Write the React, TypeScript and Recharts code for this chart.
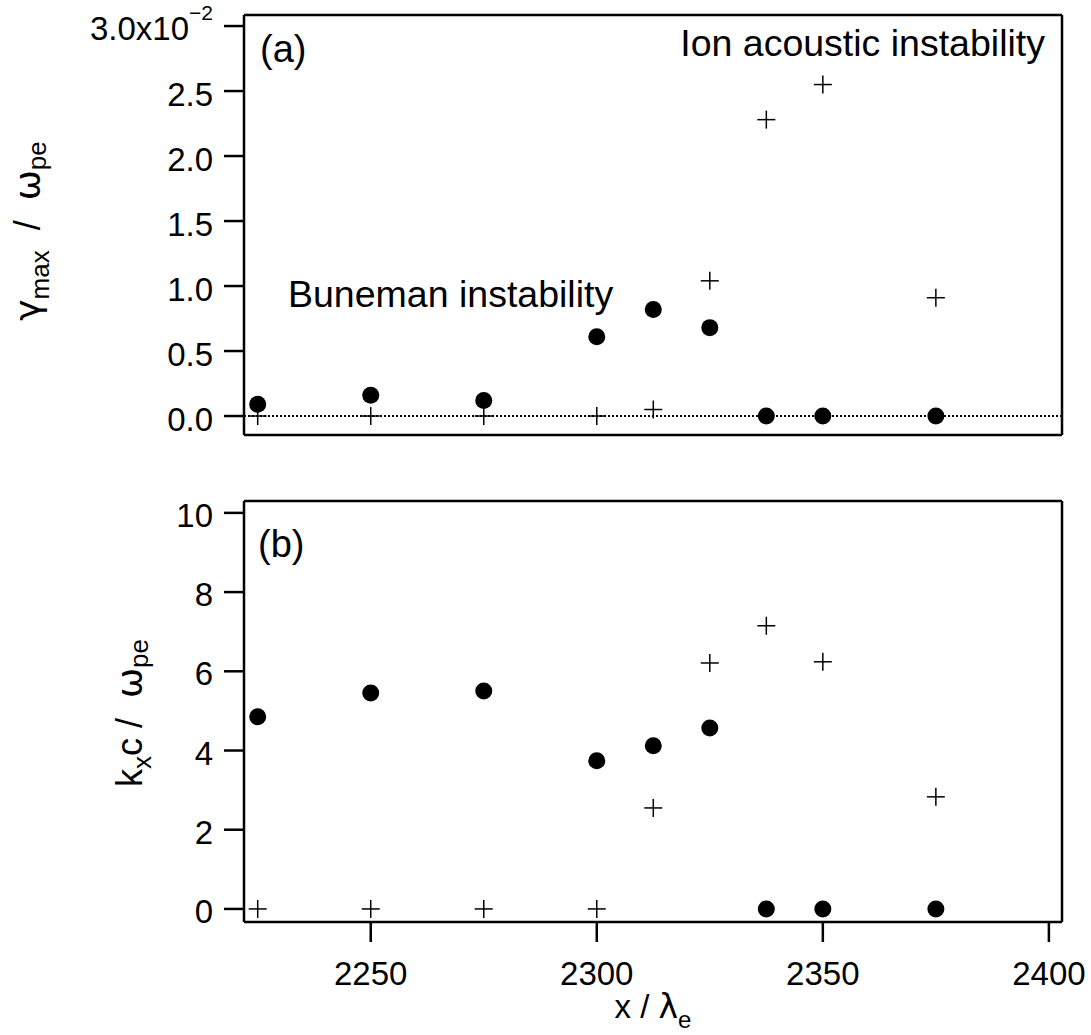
import React from 'react';
import { ScatterChart, Scatter, XAxis, YAxis, ReferenceLine, Customized } from 'recharts';

// x position of each run (x / lambda_e)
const xPos = [2225, 2250, 2275, 2300, 2312.5, 2325, 2337.5, 2350, 2375];

// (a) max growth rate, gamma_max / omega_pe in units of 1e-2
const gammaBuneman = [0.09, 0.16, 0.12, 0.61, 0.82, 0.68, 0, 0, 0];
const gammaIonAcoustic = [0, 0, 0, 0, 0.05, 1.04, 2.28, 2.55, 0.91];

// (b) wavenumber of the max mode, kx c / omega_pe
const kBuneman = [4.85, 5.45, 5.5, 3.74, 4.12, 4.57, 0, 0, 0];
const kIonAcoustic = [0, 0, 0, 0, 2.55, 6.21, 7.15, 6.24, 2.83];

const xTicks = [2250, 2300, 2350, 2400];
const gammaTicks = [0, 0.5, 1, 1.5, 2, 2.5, 3];
const kTicks = [0, 2, 4, 6, 8, 10];

const FONT = '"Liberation Sans", Arial, Helvetica, sans-serif';
const GREEK = '"DejaVu Sans", sans-serif';
const AXIS = { stroke: '#000', strokeWidth: 2.5 };
const NB = '\u00A0';

const toRows = (ys: number[]) => xPos.map((x, i) => ({ x, y: ys[i] }));

const Dot = (props: any) => <circle cx={props.cx} cy={props.cy} r={8.5} fill="#000" />;

const Plus = (props: any) => {
  const { cx, cy } = props;
  return (
    <g stroke="#000" strokeWidth={1.5}>
      <line x1={cx - 9} y1={cy} x2={cx + 9} y2={cy} />
      <line x1={cx} y1={cy - 9} x2={cx} y2={cy + 9} />
    </g>
  );
};

const GammaTick = ({ x, y, payload }: any) => {
  const v = payload.value;
  if (v === 3) {
    return (
      <text x={x} y={y} dy={14} textAnchor="end" fontSize={33} fontFamily={FONT} fill="#000">
        3.0x10<tspan dy={-20} fontSize={21}>−2</tspan>
      </text>
    );
  }
  return (
    <text x={x} y={y} dy={15} textAnchor="end" fontSize={33} fontFamily={FONT} fill="#000">
      {v.toFixed(1)}
    </text>
  );
};

const KTick = ({ x, y, payload }: any) => (
  <text x={x} y={y} dy={14} textAnchor="end" fontSize={33} fontFamily={FONT} fill="#000">
    {payload.value}
  </text>
);

const XTick = ({ x, y, payload }: any) => (
  <text x={x} y={y} dy={23} textAnchor="middle" fontSize={33} fontFamily={FONT} fill="#000">
    {payload.value}
  </text>
);

const LabelsA = () => (
  <g fontFamily={FONT} fill="#000">
    <text x={260} y={62} fontSize={38}>(a)</text>
    <text x={1045} y={56} fontSize={37.5} textAnchor="end">Ion acoustic instability</text>
    <text x={288} y={307} fontSize={37.5}>Buneman instability</text>
    <text x={40} y={231} fontSize={36} textAnchor="middle" transform="rotate(-90, 40, 231)">
      <tspan fontFamily={GREEK}>γ</tspan>
      <tspan fontSize={26} dy={9}>max</tspan>
      <tspan dy={-9}>{`${NB}${NB}/${NB}${NB}`}</tspan>
      <tspan fontFamily={GREEK}>ω</tspan>
      <tspan fontSize={26} dy={6}>pe</tspan>
    </text>
  </g>
);

const LabelsB = () => (
  <g fontFamily={FONT} fill="#000">
    <text x={258} y={77} fontSize={38}>(b)</text>
    <text x={142} y={233} fontSize={36} textAnchor="middle" transform="rotate(-90, 142, 233)">
      k<tspan fontSize={26} dy={9}>x</tspan>
      <tspan dy={-9}>{`c${NB}/${NB}${NB}`}</tspan>
      <tspan fontFamily={GREEK}>ω</tspan>
      <tspan fontSize={26} dy={6}>pe</tspan>
    </text>
    <text x={653} y={538} fontSize={33} textAnchor="middle">
      x / <tspan fontFamily={GREEK}>λ</tspan>
      <tspan fontSize={24} dy={10}>e</tspan>
    </text>
  </g>
);

export default function App() {
  const xDomain: [number, number] = [2221.97, 2402.9];
  return (
    <div style={{ position: 'absolute', left: 0, top: 0, width: 1091, height: 1035, background: '#fff' }}>
      {/* Panel (a) */}
      <div style={{ position: 'absolute', left: 0, top: 0 }}>
        <ScatterChart width={1091} height={480} margin={{ top: 14, right: 9, bottom: 25, left: 164 }}>
          <XAxis type="number" dataKey="x" domain={xDomain} ticks={xTicks} allowDataOverflow
            height={20} tickSize={20} tick={false} axisLine={AXIS} tickLine={AXIS} />
          <XAxis xAxisId="top" orientation="top" type="number" dataKey="x" domain={xDomain} allowDataOverflow
            height={1} tick={false} tickLine={false} axisLine={AXIS} />
          <YAxis type="number" dataKey="y" domain={[-0.146, 3.085]} ticks={gammaTicks} allowDataOverflow
            width={80} tickSize={20} tickMargin={11} tick={<GammaTick />} axisLine={AXIS} tickLine={AXIS} />
          <YAxis yAxisId="right" orientation="right" type="number" dataKey="y" domain={[-0.146, 3.085]} ticks={gammaTicks}
            allowDataOverflow width={20} tickSize={20} tick={false} axisLine={AXIS} tickLine={AXIS} />
          <ReferenceLine y={0} stroke="#000" strokeWidth={2} strokeDasharray="2 2" />
          <Scatter data={toRows(gammaIonAcoustic)} shape={<Plus />} isAnimationActive={false} />
          <Scatter data={toRows(gammaBuneman)} shape={<Dot />} isAnimationActive={false} />
          <Customized component={<LabelsA />} />
        </ScatterChart>
      </div>
      {/* Panel (b) */}
      <div style={{ position: 'absolute', left: 0, top: 480 }}>
        <ScatterChart width={1091} height={555} margin={{ top: 20, right: 9, bottom: 23, left: 164 }}>
          <XAxis type="number" dataKey="x" domain={xDomain} ticks={xTicks} allowDataOverflow
            height={90} tickSize={20} tickMargin={20} tick={<XTick />} axisLine={AXIS} tickLine={AXIS} />
          <XAxis xAxisId="top" orientation="top" type="number" dataKey="x" domain={xDomain} allowDataOverflow
            height={1} tick={false} tickLine={false} axisLine={AXIS} />
          <YAxis type="number" dataKey="y" domain={[-0.33, 10.3]} ticks={kTicks} allowDataOverflow
            width={80} tickSize={20} tickMargin={11} tick={<KTick />} axisLine={AXIS} tickLine={AXIS} />
          <YAxis yAxisId="right" orientation="right" type="number" dataKey="y" domain={[-0.33, 10.3]} ticks={kTicks}
            allowDataOverflow width={20} tickSize={20} tick={false} axisLine={AXIS} tickLine={AXIS} />
          <Scatter data={toRows(kIonAcoustic)} shape={<Plus />} isAnimationActive={false} />
          <Scatter data={toRows(kBuneman)} shape={<Dot />} isAnimationActive={false} />
          <Customized component={<LabelsB />} />
        </ScatterChart>
      </div>
    </div>
  );
}
